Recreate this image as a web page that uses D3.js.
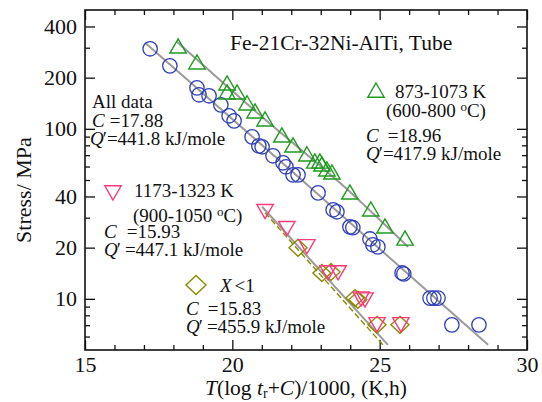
<!DOCTYPE html>
<html><head><meta charset="utf-8">
<script src="https://cdn.jsdelivr.net/npm/d3@7"></script>
<style>
body{margin:0;background:#fff}
svg{display:block}
text{font-family:"Liberation Serif","Times New Roman",serif;fill:#111}
</style>
</head><body>
<svg id="c" width="542" height="402"></svg>
<script>
// ---- data ----
const xDomain = [15, 30];
const yDomain = [5, 500];
const xMajorTicks = [15, 20, 25, 30];
const xMinorTicks = [16,17,18,19,21,22,23,24,26,27,28,29];
const yLabelTicks = [10, 20, 40, 100, 200, 400];
const yMinorTicks = [6,7,8,9,30,50,60,70,80,90,300];

// blue circles (all other data)
const circX = [17.21,17.88,18.80,18.87,19.21,19.61,19.89,20.06,20.67,20.90,21.01,21.38,21.72,21.82,22.06,22.23,22.91,23.42,23.55,23.99,24.09,24.67,24.77,24.94,25.76,25.82,26.71,26.84,26.98,27.45,28.37];
const circY = [295.6,234.7,174.2,158.5,156.4,138.4,119.3,111.4,89.7,79.4,78.4,69.4,63.1,59.8,53.6,53.6,42.0,33.4,32.5,26.5,26.2,22.5,20.8,20.2,14.2,14.0,10.1,10.1,10.1,7.03,7.03];
// green triangles: 873-1073 K
const lowTX = [18.16,18.80,19.82,19.82,20.16,20.50,20.77,21.11,21.68,22.06,22.53,22.80,22.97,23.04,23.21,23.38,23.99,24.70,25.18,25.86];
const lowTY = [303.6,244.5,184.0,162.9,162.9,140.4,125.9,113.0,90.9,79.4,70.4,63.9,63.9,61.4,57.4,55.1,42.0,33.4,26.5,22.5];
// pink inverted triangles: 1173-1323 K
const highTX = [21.11,21.85,22.53,23.25,23.59,24.37,24.50,24.91,25.72];
const highTY = [33.0,26.2,20.5,14.4,14.4,10.1,9.97,7.13,7.13];
// olive diamonds: X<1
const xlt1X = [22.23,23.04,23.35,24.16,24.26,24.91,25.69];
const xlt1Y = [19.95,14.2,14.4,10.1,9.86,7.03,7.03];

// fitted master curves
const fitAllX = [17.04, 22.30, 28.68];
const fitAllY = [320.7, 51.0, 5.36];
const fitLowX = [18.12, 21.04, 23.65, 25.96];
const fitLowY = [325, 116.1, 48.1, 20.2];
const fitHighX = [21.01, 25.28];
const fitHighY = [34.8, 5.36];
const fitX1X = [21.11, 25.11];
const fitX1Y = [32.1, 5.36];

// ---- drawing ----
const svg = d3.select("#c");
const L = 85, R = 527, T = 10, B = 350;
const x = d3.scaleLinear().domain(xDomain).range([L, R]);
const y = d3.scaleLog().domain(yDomain).range([B, T]);

const C_BLUE = "#3040b8", C_GREEN = "#1f9a1f", C_PINK = "#ff3a7a", C_OLIVE = "#8a8a00", C_GRAY = "#9a9a9a";

function axisStyle(g){ g.select(".domain").remove(); g.selectAll("line").attr("stroke","#111").attr("stroke-width",1.3); g.selectAll("text").attr("font-family","Liberation Serif").attr("font-size",22).attr("fill","#111"); }

// left axis
svg.append("g").attr("transform",`translate(${L},0)`).call(d3.axisLeft(y).tickValues(yLabelTicks).tickFormat(d3.format("d")).tickSize(-10).tickPadding(8)).call(axisStyle);
svg.append("g").attr("transform",`translate(${L},0)`).call(d3.axisLeft(y).tickValues(yMinorTicks).tickFormat("").tickSize(-5)).call(axisStyle);
// right axis
svg.append("g").attr("transform",`translate(${R},0)`).call(d3.axisRight(y).tickValues(yLabelTicks).tickFormat("").tickSize(-10)).call(axisStyle);
svg.append("g").attr("transform",`translate(${R},0)`).call(d3.axisRight(y).tickValues(yMinorTicks).tickFormat("").tickSize(-5)).call(axisStyle);
// bottom axis
svg.append("g").attr("transform",`translate(0,${B})`).call(d3.axisBottom(x).tickValues(xMajorTicks).tickFormat(d3.format("d")).tickSize(-10).tickPadding(6)).call(axisStyle);
svg.append("g").attr("transform",`translate(0,${B})`).call(d3.axisBottom(x).tickValues(xMinorTicks).tickFormat("").tickSize(-5)).call(axisStyle);
// top axis
svg.append("g").attr("transform",`translate(0,${T})`).call(d3.axisTop(x).tickValues(xMajorTicks).tickFormat("").tickSize(-10)).call(axisStyle);
svg.append("g").attr("transform",`translate(0,${T})`).call(d3.axisTop(x).tickValues(xMinorTicks).tickFormat("").tickSize(-5)).call(axisStyle);

svg.append("rect").attr("x",L).attr("y",T).attr("width",R-L).attr("height",B-T)
  .attr("fill","none").attr("stroke","#111").attr("stroke-width",1.6);

// fit lines
const line = d3.line().x(d=>x(d[0])).y(d=>y(d[1])).curve(d3.curveMonotoneX);
function fit(xs, ys, color, w, dash){
  svg.append("path").datum(xs.map((v,i)=>[v,ys[i]])).attr("d",line)
    .attr("fill","none").attr("stroke",color).attr("stroke-width",w)
    .attr("stroke-dasharray",dash||null);
}
fit(fitAllX, fitAllY, C_GRAY, 2);
fit(fitLowX, fitLowY, C_GRAY, 2);
fit(fitHighX, fitHighY, C_GRAY, 2);
fit(fitX1X, fitX1Y, C_OLIVE, 1.4, "6,3");

// markers
function triUpPath(){ return "M0,-8L8.2,6.2L-8.2,6.2Z"; }
function triDownPath(){ return "M0,8L8.2,-6.2L-8.2,-6.2Z"; }
function diamondPath(){ return "M0,-8.5L9,0L0,8.5L-9,0Z"; }

function markers(xs, ys, kind, color){
  const g = svg.append("g");
  const data = xs.map((v,i)=>[v,ys[i]]);
  if(kind==="circle"){
    g.selectAll("circle").data(data).join("circle")
      .attr("cx",d=>x(d[0])).attr("cy",d=>y(d[1])).attr("r",7.2)
      .attr("fill","none").attr("stroke",color).attr("stroke-width",1.3);
  } else {
    const p = kind==="up"?triUpPath():kind==="down"?triDownPath():diamondPath();
    g.selectAll("path").data(data).join("path")
      .attr("d",p).attr("transform",d=>`translate(${x(d[0])},${y(d[1])})`)
      .attr("fill","none").attr("stroke",color).attr("stroke-width",1.4);
  }
}
markers(circX, circY, "circle", C_BLUE);
markers(lowTX, lowTY, "up", C_GREEN);
markers(xlt1X, xlt1Y, "diamond", C_OLIVE);
markers(highTX, highTY, "down", C_PINK);

// legend markers
svg.append("path").attr("d",triUpPath()).attr("transform","translate(376,91)").attr("fill","none").attr("stroke",C_GREEN).attr("stroke-width",1.4);
svg.append("path").attr("d",triDownPath()).attr("transform","translate(113,192)").attr("fill","none").attr("stroke",C_PINK).attr("stroke-width",1.4);
svg.append("path").attr("d","M0,-9.5L10,0L0,9.5L-10,0Z").attr("transform","translate(196,285)").attr("fill","none").attr("stroke",C_OLIVE).attr("stroke-width",1.4);

// text blocks: one <text> per block, one line per group of tspans
function block(lines, size){
  const t = svg.append("text").attr("font-size",size||19);
  lines.forEach(ln=>{
    ln.parts.forEach((p,k)=>{
      const s = t.append("tspan");
      if(k===0) s.attr("x",ln.x).attr("y",ln.y);
      if(typeof p==="string"){ s.text(p); return; }
      s.text(p.t);
      if(p.i) s.attr("font-style","italic");
      if(p.dy) s.attr("dy",p.dy);
      if(p.dx) s.attr("dx",p.dx);
      if(p.fs) s.attr("font-size",p.fs);
    });
  });
  return t;
}
block([{x:230,y:50,parts:["Fe-21Cr-32Ni-AlTi, Tube"]}], 21.5);

block([
  {x:92,y:108,parts:["All data"]},
  {x:92,y:127,parts:[{t:"C",i:true},{t:"=17.88",dx:5}]},
  {x:90,y:145,parts:[{t:"Q",i:true},{t:"\u2032",dx:-1},"=441.8 kJ/mole"]}
]);

block([
  {x:395,y:98,parts:["873-1073 K"]},
  {x:386,y:117,parts:["(600-800 ",{t:"o",dy:-6,fs:13},{t:"C)",dy:6}]},
  {x:366,y:142,parts:[{t:"C",i:true},{t:"=18.96",dx:9}]},
  {x:366,y:160,parts:[{t:"Q",i:true},{t:"\u2032",dx:-1},"=417.9 kJ/mole"]}
]);

block([
  {x:134,y:197,parts:["1173-1323 K"]},
  {x:133,y:222,parts:["(900-1050 ",{t:"o",dy:-6,fs:13},{t:"C)",dy:6}]},
  {x:104,y:238,parts:[{t:"C",i:true},{t:"=15.93",dx:10}]},
  {x:104,y:256,parts:[{t:"Q",i:true},{t:"\u2032",dx:-1},{t:"=447.1 kJ/mole",dx:4}]}
]);

block([
  {x:220,y:292,parts:[{t:"X",i:true},{t:"<1",dx:3}]},
  {x:186,y:315,parts:[{t:"C",i:true},{t:"=15.83",dx:9}]},
  {x:186,y:333,parts:[{t:"Q",i:true},{t:"\u2032",dx:-1},{t:"=455.9 kJ/mole",dx:4}]}
]);

// axis titles
const xt = svg.append("text").attr("x",(L+R)/2).attr("y",395).attr("text-anchor","middle").attr("font-size",21.5);
xt.append("tspan").attr("font-style","italic").text("T");
xt.append("tspan").text("(log ");
xt.append("tspan").attr("font-style","italic").text("t");
xt.append("tspan").attr("font-size",14).attr("dy",3).text("r");
xt.append("tspan").attr("dy",-3).text("+");
xt.append("tspan").attr("font-style","italic").text("C");
xt.append("tspan").text(")/1000, (K,h)");

svg.append("text").attr("transform","translate(31,190) rotate(-90)").attr("text-anchor","middle").attr("font-size",22).text("Stress/ MPa");
</script>
</body></html>
